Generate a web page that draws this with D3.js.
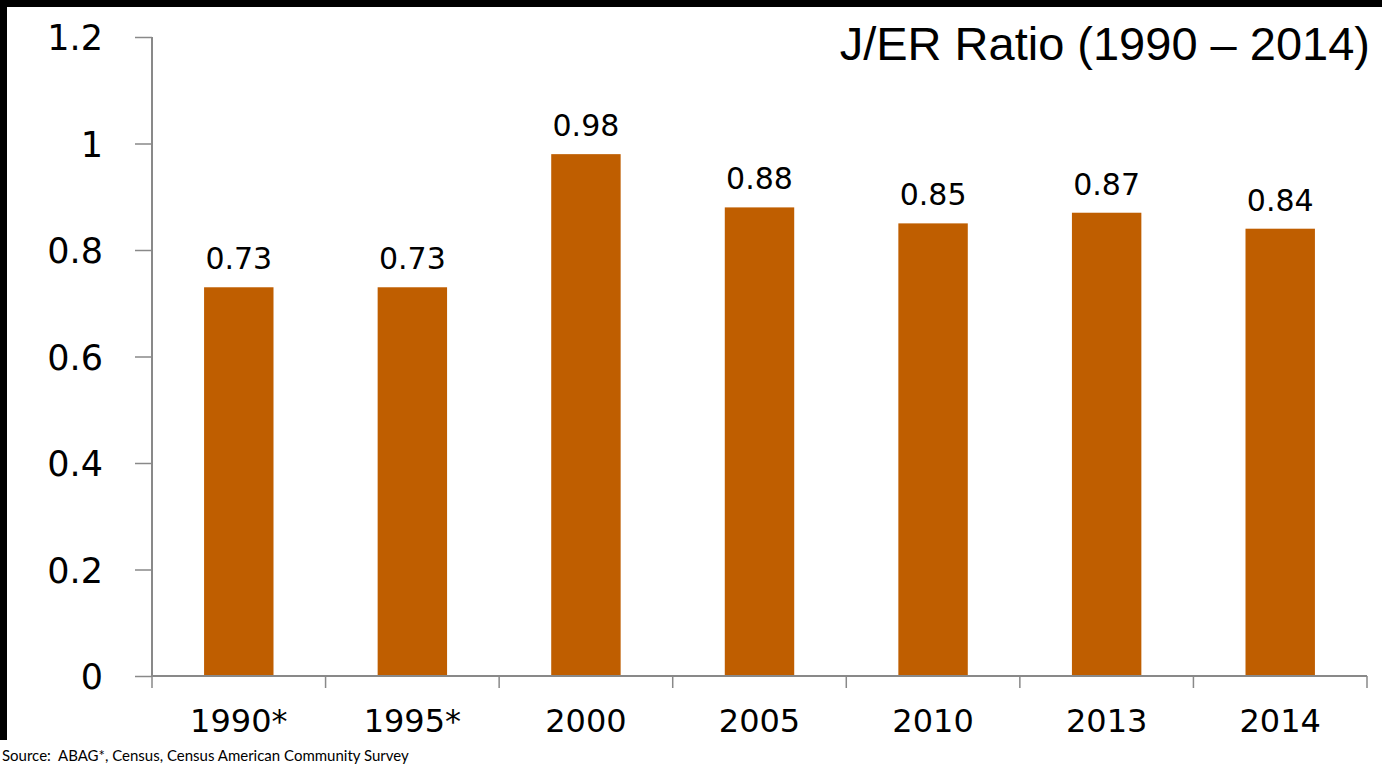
<!DOCTYPE html>
<html>
<head>
<meta charset="utf-8">
<script src="https://cdn.jsdelivr.net/npm/d3@7"></script>
<style>
  html, body { margin: 0; padding: 0; background: #fff; }
  svg { display: block; }
</style>
</head>
<body>
<script>
const categories = ["1990*", "1995*", "2000", "2005", "2010", "2013", "2014"];
const values = [0.73, 0.73, 0.98, 0.88, 0.85, 0.87, 0.84];
const yTicks = [0, 0.2, 0.4, 0.6, 0.8, 1, 1.2];
const yTickLabels = ["0", "0.2", "0.4", "0.6", "0.8", "1", "1.2"];
const title = "J/ER Ratio (1990 \u2013 2014)";
const source = "Source:  ABAG*, Census, Census American Community Survey";

const W = 1382, H = 765;
const svg = d3.select("body").append("svg").attr("width", W).attr("height", H);

svg.append("rect").attr("width", W).attr("height", H).attr("fill", "#fff");
// black frame edges
svg.append("rect").attr("x", 0).attr("y", 0).attr("width", W).attr("height", 7).attr("fill", "#000");
svg.append("rect").attr("x", 0).attr("y", 0).attr("width", 7).attr("height", 740).attr("fill", "#000");

const x0 = 152, x1 = 1367, yBase = 676, yTop = 37;
const x = d3.scaleBand().domain(categories).range([x0, x1]).paddingInner(0.6).paddingOuter(0.3);
const y = d3.scaleLinear().domain([0, 1.2]).range([yBase, yTop]);

const axisColor = "#898989";

// Y axis
const yAxis = d3.axisLeft(y).tickValues(yTicks).tickSize(17)
  .tickFormat((d, i) => yTickLabels[i]);
const gy = svg.append("g").attr("transform", `translate(${x0},0)`).call(yAxis);
gy.select(".domain").remove();
gy.selectAll(".tick line").attr("stroke", axisColor).attr("stroke-width", 1.5);
gy.selectAll(".tick text")
  .attr("x", -49)
  .attr("dy", "0.36em")
  .attr("fill", "#000")
  .style("font-family", "'DejaVu Sans', sans-serif")
  .style("font-size", "35px");
svg.append("line").attr("x1", x0).attr("x2", x0).attr("y1", yTop).attr("y2", yBase)
  .attr("stroke", axisColor).attr("stroke-width", 2);

// Bars
svg.append("g").selectAll("rect").data(values).join("rect")
  .attr("x", (d, i) => x(categories[i]))
  .attr("y", d => y(d))
  .attr("width", x.bandwidth())
  .attr("height", d => y(0) - y(d))
  .attr("fill", "#BF5E00");

// X axis line and boundary ticks
svg.append("line").attr("x1", x0).attr("x2", x1).attr("y1", yBase).attr("y2", yBase)
  .attr("stroke", axisColor).attr("stroke-width", 2);
const step = x.step();
const bounds = d3.range(categories.length + 1).map(i => x0 + i * step);
svg.append("g").selectAll("line").data(bounds).join("line")
  .attr("x1", d => d).attr("x2", d => d)
  .attr("y1", yBase).attr("y2", yBase + 12)
  .attr("stroke", axisColor).attr("stroke-width", 1.5);

// Category labels
svg.append("g").selectAll("text").data(categories).join("text")
  .attr("x", d => x(d) + x.bandwidth() / 2)
  .attr("y", 732)
  .attr("text-anchor", "middle")
  .style("font-family", "'DejaVu Sans', sans-serif")
  .style("font-size", "32px")
  .attr("fill", "#000")
  .text(d => d);

// Value labels
svg.append("g").selectAll("text").data(values).join("text")
  .attr("x", (d, i) => x(categories[i]) + x.bandwidth() / 2)
  .attr("y", d => y(d) - 18)
  .attr("text-anchor", "middle")
  .style("font-family", "'DejaVu Sans', sans-serif")
  .style("font-size", "30px")
  .attr("fill", "#000")
  .text(d => d.toFixed(2));

// Title
svg.append("text")
  .attr("x", 1370).attr("y", 60)
  .attr("text-anchor", "end")
  .style("font-family", "'Liberation Sans', Arial, sans-serif")
  .style("font-size", "47px")
  .attr("fill", "#000")
  .text(title);

// Source
svg.append("text")
  .attr("x", 2).attr("y", 761)
  .style("font-family", "Lato, sans-serif")
  .style("font-size", "15px")
  .attr("fill", "#000")
  .style("white-space", "pre")
  .attr("xml:space", "preserve")
  .text(source);
</script>
</body>
</html>
